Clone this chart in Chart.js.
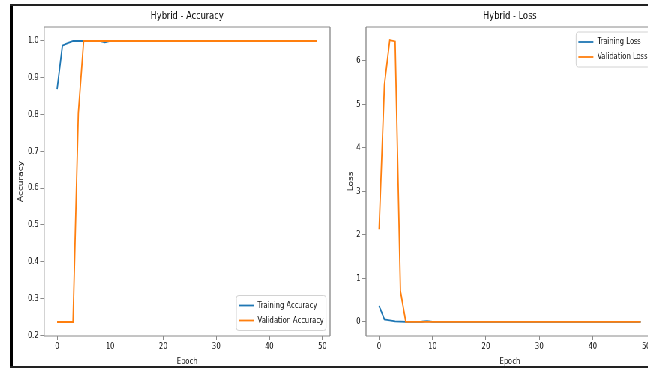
<!DOCTYPE html>
<html>
<head>
<meta charset="utf-8">
<script src="https://cdn.jsdelivr.net/npm/chart.js@4"></script>
<style>
  body { margin: 0; background: #fff; }
  #clip { position: relative; width: 648px; height: 370px; overflow: hidden; background: #fff; }
  #stage { position: absolute; left: 0; top: 0; width: 900px; height: 370px; transform: scaleX(0.75); transform-origin: 0 0; }
  .box { position: absolute; top: 0; height: 370px; }
  .frame { position: absolute; background: #222; }
</style>
</head>
<body>
<div id="clip">
  <div id="stage">
    <div class="box" style="left:0;width:444px"><canvas id="accChart"></canvas></div>
    <div class="box" style="left:444px;width:440px"><canvas id="lossChart"></canvas></div>
  </div>
  <div class="frame" style="left:10px;top:4px;width:3px;height:364px;background:#000"></div>
  <div class="frame" style="left:10px;top:4px;width:638px;height:1.5px"></div>
  <div class="frame" style="left:10px;top:366px;width:638px;height:2px"></div>
</div>
<script>
const epochs = [0, 1, 2, 3, 4, 5, 6, 7, 8, 9, 10, 11, 12, 13, 14, 15, 16, 17, 18, 19,
  20, 21, 22, 23, 24, 25, 26, 27, 28, 29, 30, 31, 32, 33, 34, 35, 36, 37, 38, 39,
  40, 41, 42, 43, 44, 45, 46, 47, 48, 49];

const trainAcc = [0.869, 0.987, 0.994, 1.0, 1.0, 1.0, 1.0, 1.0, 1.0, 0.996,
  1.0, 1.0, 1.0, 1.0, 1.0, 1.0, 1.0, 1.0, 1.0, 1.0,
  1.0, 1.0, 1.0, 1.0, 1.0, 1.0, 1.0, 1.0, 1.0, 1.0,
  1.0, 1.0, 1.0, 1.0, 1.0, 1.0, 1.0, 1.0, 1.0, 1.0,
  1.0, 1.0, 1.0, 1.0, 1.0, 1.0, 1.0, 1.0, 1.0, 1.0];
const valAcc = [0.236, 0.236, 0.236, 0.236, 0.804, 1.0, 1.0, 1.0, 1.0, 1.0,
  1.0, 1.0, 1.0, 1.0, 1.0, 1.0, 1.0, 1.0, 1.0, 1.0,
  1.0, 1.0, 1.0, 1.0, 1.0, 1.0, 1.0, 1.0, 1.0, 1.0,
  1.0, 1.0, 1.0, 1.0, 1.0, 1.0, 1.0, 1.0, 1.0, 1.0,
  1.0, 1.0, 1.0, 1.0, 1.0, 1.0, 1.0, 1.0, 1.0, 1.0];

const trainLoss = [0.37, 0.06, 0.035, 0.012, 0.008, 0.004, 0.003, 0.002, 0.005, 0.02,
  0.004, 0.002, 0.002, 0.001, 0.001, 0.001, 0.001, 0.001, 0.001, 0.001,
  0.001, 0.001, 0.001, 0.001, 0.001, 0.001, 0.001, 0.001, 0.001, 0.001,
  0.001, 0.001, 0.001, 0.001, 0.001, 0.001, 0.001, 0.001, 0.001, 0.001,
  0.001, 0.001, 0.001, 0.001, 0.001, 0.001, 0.001, 0.001, 0.001, 0.001];
const valLoss = [2.13, 5.45, 6.47, 6.44, 0.71, 0.003, 0.002, 0.002, 0.002, 0.002,
  0.002, 0.001, 0.001, 0.001, 0.001, 0.001, 0.001, 0.001, 0.001, 0.001,
  0.001, 0.001, 0.001, 0.001, 0.001, 0.001, 0.001, 0.001, 0.001, 0.001,
  0.001, 0.001, 0.001, 0.001, 0.001, 0.001, 0.001, 0.001, 0.001, 0.001,
  0.001, 0.001, 0.001, 0.001, 0.001, 0.001, 0.001, 0.001, 0.001, 0.001];

const epochTicks = [0, 10, 20, 30, 40, 50];
const accTicks = [0.2, 0.3, 0.4, 0.5, 0.6, 0.7, 0.8, 0.9, 1.0];
const lossTicks = [0, 1, 2, 3, 4, 5, 6];

const BLUE = '#1f77b4';
const ORANGE = '#ff7f0e';
const SPINE = '#8a8a8a';
const TEXT = '#111';

Chart.defaults.font.family = '"DejaVu Sans", sans-serif';
Chart.defaults.color = TEXT;

// spines on all four sides, like matplotlib
const frameBox = {
  id: 'frameBox',
  afterDatasetsDraw(chart) {
    const {ctx, chartArea: a} = chart;
    ctx.save();
    ctx.strokeStyle = SPINE;
    ctx.lineWidth = 1;
    ctx.beginPath();
    ctx.moveTo(a.left, a.top); ctx.lineTo(a.right, a.top);
    ctx.moveTo(a.left, a.bottom); ctx.lineTo(a.right, a.bottom);
    ctx.stroke();
    ctx.lineWidth = 1.35;
    ctx.beginPath();
    ctx.moveTo(a.left, a.top); ctx.lineTo(a.left, a.bottom);
    ctx.moveTo(a.right, a.top); ctx.lineTo(a.right, a.bottom);
    ctx.stroke();
    ctx.restore();
  }
};

// legend box inside the plot area
const boxLegend = {
  id: 'boxLegend',
  afterDraw(chart, args, opts) {
    const {ctx, chartArea: a} = chart;
    const sets = chart.data.datasets;
    ctx.save();
    ctx.font = '9px "DejaVu Sans"';
    const textW = Math.max(...sets.map(d => ctx.measureText(d.label).width));
    const w = 3 + 20 + 5.3 + textW + 3;
    const h = 10 + 15 * (sets.length - 1) + 10;
    const x = a.right - 5.3 - w;
    const y = opts.corner === 'top' ? a.top + 5 : a.bottom - 5.5 - h;
    ctx.fillStyle = 'rgba(255,255,255,0.85)';
    ctx.strokeStyle = '#d2d2d2';
    ctx.lineWidth = 1;
    ctx.beginPath();
    ctx.roundRect(x, y, w, h, 3);
    ctx.fill();
    ctx.stroke();
    sets.forEach((d, i) => {
      const ry = y + 10 + i * 15;
      ctx.strokeStyle = d.borderColor;
      ctx.lineWidth = 1.8;
      ctx.beginPath();
      ctx.moveTo(x + 3, ry);
      ctx.lineTo(x + 23, ry);
      ctx.stroke();
      ctx.fillStyle = TEXT;
      ctx.textBaseline = 'middle';
      ctx.fillText(d.label, x + 28.3, ry);
    });
    ctx.restore();
  }
};

function makeChart(id, cfg) {
  return new Chart(document.getElementById(id), {
    type: 'line',
    data: {
      labels: epochs,
      datasets: [
        { label: cfg.names[0], data: cfg.series[0], borderColor: BLUE, order: 1 },
        { label: cfg.names[1], data: cfg.series[1], borderColor: ORANGE, order: 0 }
      ]
    },
    options: {
      responsive: true,
      maintainAspectRatio: false,
      animation: false,
      layout: { padding: { left: 0, right: cfg.padRight, top: 0, bottom: 0 } },
      elements: {
        line: { borderWidth: 1.8, tension: 0, fill: false },
        point: { radius: 0, hoverRadius: 0 }
      },
      plugins: {
        legend: { display: false },
        tooltip: { enabled: false },
        title: {
          display: true,
          text: cfg.title,
          fullSize: false,
          color: TEXT,
          font: { size: 11, weight: 'normal' },
          padding: { top: 9.4, bottom: 4.4 }
        },
        boxLegend: { corner: cfg.corner }
      },
      scales: {
        x: {
          type: 'linear',
          min: -2.45,
          max: 51.45,
          afterBuildTicks: s => { s.ticks = epochTicks.map(v => ({ value: v })); },
          afterFit: s => { s.height = 34; },
          border: { display: false },
          grid: { drawOnChartArea: false, drawTicks: true, tickLength: 4, color: SPINE },
          ticks: { font: { size: 9 }, color: TEXT, padding: 1.5, maxRotation: 0, autoSkip: false },
          title: { display: true, text: 'Epoch', font: { size: 9 }, color: TEXT, padding: { top: 0, bottom: 2.9 } }
        },
        y: {
          min: cfg.yMin,
          max: cfg.yMax,
          afterBuildTicks: s => { s.ticks = cfg.yTicks.map(v => ({ value: v })); },
          afterFit: s => { s.width = cfg.yWidth; },
          border: { display: false },
          grid: { drawOnChartArea: false, drawTicks: true, tickLength: 5.3, color: SPINE },
          ticks: { font: { size: 9 }, color: TEXT, padding: 2, autoSkip: false, callback: cfg.fmt },
          title: { display: true, text: cfg.yLabel, font: { size: 9 }, color: TEXT, padding: { top: cfg.yTitlePad, bottom: 0 } }
        }
      }
    },
    plugins: [frameBox, boxLegend]
  });
}

makeChart('accChart', {
  title: 'Hybrid - Accuracy',
  names: ['Training Accuracy', 'Validation Accuracy'],
  series: [trainAcc, valAcc],
  yTicks: accTicks,
  yMin: 0.198,
  yMax: 1.038,
  yLabel: 'Accuracy',
  yWidth: 58.7,
  yTitlePad: 22.2,
  padRight: 4,
  corner: 'bottom',
  fmt: v => v.toFixed(1)
});

makeChart('lossChart', {
  title: 'Hybrid - Loss',
  names: ['Training Loss', 'Validation Loss'],
  series: [trainLoss, valLoss],
  yTicks: lossTicks,
  yMin: -0.3225,
  yMax: 6.7725,
  yLabel: 'Loss',
  yWidth: 44,
  yTitlePad: 18.2,
  padRight: 12,
  corner: 'top',
  fmt: v => String(v)
});
</script>
</body>
</html>
